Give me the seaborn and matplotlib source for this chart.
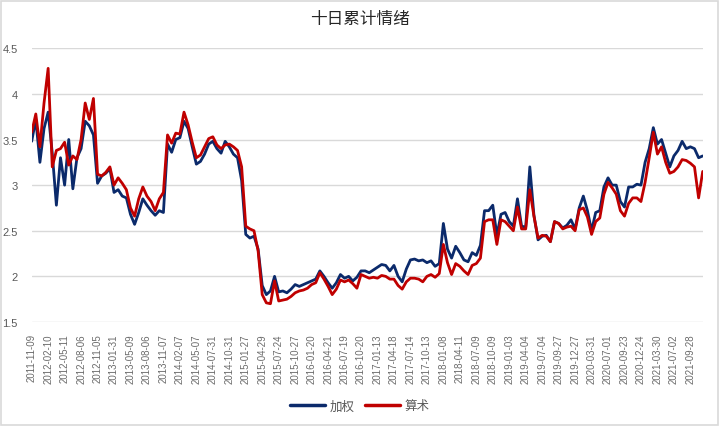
import matplotlib
matplotlib.use("Agg")
import matplotlib.pyplot as plt
import matplotlib.patches as patches
from matplotlib.ticker import FuncFormatter
import seaborn as sns
import pandas as pd
import numpy as np

# tick labels shown on the category axis (one every 4 points)
tick_labels = [
    "2011-11-09", "2012-02-10", "2012-05-11", "2012-08-06", "2012-11-05",
    "2013-01-31", "2013-05-09", "2013-08-06", "2013-11-07", "2014-02-07",
    "2014-05-07", "2014-07-31", "2014-10-31", "2015-01-27", "2015-04-29",
    "2015-07-24", "2015-10-27", "2016-01-20", "2016-04-21", "2016-07-19",
    "2016-10-20", "2017-01-13", "2017-04-18", "2017-07-14", "2017-10-13",
    "2018-01-08", "2018-04-11", "2018-07-09", "2018-10-09", "2019-01-03",
    "2019-04-04", "2019-07-04", "2019-09-27", "2019-12-27", "2020-03-31",
    "2020-07-01", "2020-09-23", "2020-12-24", "2021-03-30", "2021-07-02",
    "2021-09-28",
]

# 加权 (weighted)
weighted = (
    [3.48, 3.72, 3.25, 3.62, 3.80, 3.35, 2.78, 3.30, 3.00, 3.50, 2.96, 3.30, 3.40, 3.70, 3.65,
     3.55, 3.02, 3.10, 3.13, 3.18, 2.92, 2.95, 2.88, 2.86, 2.68, 2.57, 2.70, 2.85, 2.78]
    + [2.72, 2.67, 2.72, 2.70, 3.45, 3.36, 3.50, 3.52, 3.70, 3.62, 3.42, 3.23, 3.26, 3.34,
       3.45, 3.48, 3.40, 3.35, 3.48, 3.42, 3.34, 3.30, 3.05, 2.46, 2.42, 2.44, 2.30]
    + [1.90, 1.80, 1.84, 2.00, 1.83, 1.84, 1.82, 1.86, 1.91, 1.89, 1.91, 1.93, 1.95, 1.97,
       2.06, 2.00, 1.93, 1.87, 1.93, 2.02, 1.98, 2.00, 1.95, 1.99, 2.06, 2.06, 2.04, 2.07]
    + [2.10, 2.13, 2.12, 2.06, 2.12, 2.00, 1.94, 2.08, 2.18, 2.19, 2.17, 2.18, 2.15, 2.17,
       2.11, 2.14, 2.58, 2.30, 2.20, 2.33, 2.26, 2.18, 2.16, 2.26, 2.23, 2.34, 2.72, 2.72]
    + [2.78, 2.45, 2.68, 2.70, 2.60, 2.55, 2.85, 2.55, 2.54, 3.20, 2.67, 2.40, 2.44, 2.45,
       2.38, 2.60, 2.58, 2.53, 2.56, 2.62, 2.52, 2.75, 2.88, 2.72, 2.50, 2.70, 2.72, 2.98]
    + [3.08, 3.00, 3.00, 2.82, 2.76, 2.98, 2.98, 3.01, 3.00, 3.25, 3.40, 3.63, 3.45, 3.50,
       3.35, 3.20, 3.32, 3.38, 3.48, 3.40, 3.42, 3.40, 3.30, 3.32]
)

# 算术 (arithmetic)
arithmetic = (
    [3.58, 3.78, 3.42, 3.90, 4.28, 3.20, 3.38, 3.40, 3.47, 3.22, 3.32, 3.28, 3.50, 3.90, 3.72,
     3.95, 3.12, 3.10, 3.14, 3.20, 3.00, 3.08, 3.02, 2.95, 2.75, 2.66, 2.85, 2.98, 2.88]
    + [2.82, 2.72, 2.85, 2.92, 3.55, 3.46, 3.57, 3.56, 3.80, 3.66, 3.47, 3.30, 3.33, 3.42,
       3.51, 3.53, 3.44, 3.40, 3.44, 3.45, 3.42, 3.38, 3.20, 2.55, 2.52, 2.50, 2.28]
    + [1.80, 1.71, 1.70, 1.95, 1.73, 1.74, 1.75, 1.78, 1.82, 1.84, 1.85, 1.87, 1.91, 1.93,
       2.04, 1.97, 1.89, 1.80, 1.86, 1.96, 1.94, 1.96, 1.92, 1.87, 2.02, 2.00, 1.98, 1.99]
    + [1.98, 2.01, 2.00, 1.97, 1.97, 1.90, 1.86, 1.94, 1.98, 1.98, 1.97, 1.94, 2.00, 2.02,
       1.99, 2.03, 2.35, 2.15, 2.02, 2.14, 2.11, 2.06, 2.02, 2.12, 2.14, 2.20, 2.60, 2.62]
    + [2.62, 2.35, 2.62, 2.60, 2.55, 2.50, 2.76, 2.52, 2.52, 2.95, 2.66, 2.42, 2.45, 2.44,
       2.38, 2.60, 2.58, 2.52, 2.54, 2.55, 2.50, 2.73, 2.75, 2.65, 2.46, 2.60, 2.64, 2.90]
    + [3.03, 2.97, 2.90, 2.72, 2.66, 2.80, 2.86, 2.86, 2.82, 3.03, 3.30, 3.58, 3.34, 3.42,
       3.25, 3.13, 3.15, 3.20, 3.28, 3.27, 3.24, 3.20, 2.86, 3.15]
)

series_names = ["加权", "算术"]
colors = ["#0b2a6b", "#c00000"]
step = 4

n = len(weighted)
df = pd.DataFrame({
    "idx": list(range(n)) * 2,
    "value": weighted + arithmetic,
    "series": [series_names[0]] * n + [series_names[1]] * n,
})

sns.set_style("white")
plt.rcParams["font.family"] = ["Noto Sans CJK SC", "DejaVu Sans"]

fig = plt.figure(figsize=(7.2, 4.27), dpi=100)
ax = fig.add_axes([0.044, 0.2436, 0.932, 0.641])

sns.lineplot(data=df, x="idx", y="value", hue="series", palette=colors,
             linewidth=2.0, ax=ax, legend=False)

ax.set_xlim(0, n - 1)
ax.set_ylim(1.5, 4.5)
ax.set_yticks([1.5, 2, 2.5, 3, 3.5, 4, 4.5])
ax.yaxis.set_major_formatter(FuncFormatter(lambda v, p: f"{v:g}"))
ax.set_xticks(np.arange(len(tick_labels)) * step)
ax.set_xticklabels(tick_labels, rotation=90, fontsize=7,
                   family=["Liberation Sans", "DejaVu Sans"], color="#6b6b6b")
ax.tick_params(axis="y", labelsize=8, labelcolor="#595959", length=0, pad=10)
ax.tick_params(axis="x", length=0, pad=8)
for lbl in ax.get_yticklabels():
    lbl.set_family(["Liberation Sans", "DejaVu Sans"])
ax.grid(axis="y", color="#d9d9d9", linewidth=1)
ax.set_axisbelow(True)
for s in ax.spines.values():
    s.set_visible(False)
ax.set_xlabel("")
ax.set_ylabel("")

fig.text(0.5, 0.955, "十日累计情绪", ha="center", va="center", fontsize=12, color="#262626")

handles = [plt.Line2D([], [], color=c, linewidth=2.5) for c in colors]
fig.legend(handles, series_names, loc="center", bbox_to_anchor=(0.5, 0.047), ncol=2,
           frameon=False, fontsize=9, handlelength=2.8, columnspacing=0.8,
           handletextpad=0.4, labelcolor="#595959")

fig.patches.append(patches.Rectangle((0.002, 0.003), 0.995, 0.993, transform=fig.transFigure,
                                     fill=False, edgecolor="#d9d9d9", linewidth=1.2))

fig.savefig("out.png", dpi=100)
